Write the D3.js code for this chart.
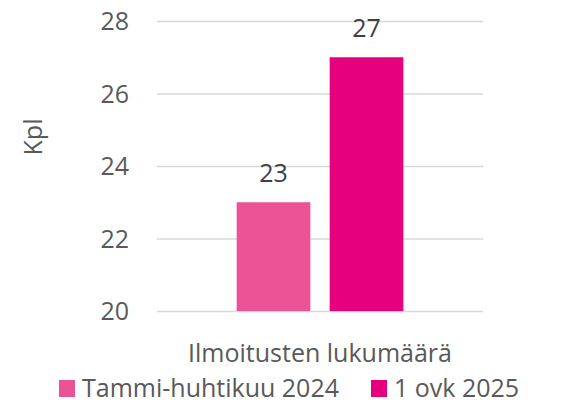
<!DOCTYPE html>
<html>
<head>
<meta charset="utf-8">
<script src="https://cdn.jsdelivr.net/npm/d3@7"></script>
<style>
  body { margin: 0; background: #fff; }
  text { font-family: "Open Sans", sans-serif; }
</style>
</head>
<body>
<script>
// data
var categories = ["Ilmoitusten lukumäärä"];
var seriesNames = ["Tammi-huhtikuu 2024", "1 ovk 2025"];
var seriesValues = [23, 27];
var yTicks = [20, 22, 24, 26, 28];
var colors = ["#EB5396", "#E6007E"];

var svgWidth = 575, svgHeight = 404;
var margin = { top: 21, right: 92, bottom: 93, left: 157 };
var width = svgWidth - margin.left - margin.right;
var height = svgHeight - margin.top - margin.bottom;

var svg = d3.select("body").append("svg")
  .attr("width", svgWidth)
  .attr("height", svgHeight);

var chartGroup = svg.append("g")
  .attr("transform", `translate(${margin.left}, ${margin.top})`);

var x0 = d3.scaleBand().domain(categories).range([0, width]).paddingInner(0).paddingOuter(0.478);
var x1 = d3.scaleBand().domain(seriesNames).range([0, x0.bandwidth()]).paddingInner(0.208);
var y = d3.scaleLinear().domain([20, 28]).range([height, 0]);

// gridlines
var leftAxis = d3.axisLeft(y).tickValues(yTicks).tickSize(-width).tickPadding(28);
var yAxisG = chartGroup.append("g").call(leftAxis);
yAxisG.select(".domain").remove();
yAxisG.selectAll(".tick line").attr("stroke", "#D9D9D9").attr("stroke-width", 1.5);
yAxisG.selectAll(".tick text")
  .attr("fill", "#595959")
  .style("font-size", "25px")
  .attr("dy", "0.35em");

// bars
var barData = seriesNames.map((s, i) => ({ name: s, value: seriesValues[i], color: colors[i] }));
var catG = chartGroup.append("g").attr("transform", `translate(${x0(categories[0])},0)`);
catG.selectAll("rect").data(barData).enter().append("rect")
  .attr("x", d => x1(d.name))
  .attr("y", d => y(d.value))
  .attr("width", x1.bandwidth())
  .attr("height", d => height - y(d.value))
  .attr("fill", d => d.color);

catG.selectAll(".lbl").data(barData).enter().append("text")
  .attr("x", d => x1(d.name) + x1.bandwidth() / 2)
  .attr("y", d => y(d.value) - 20)
  .attr("text-anchor", "middle")
  .attr("fill", "#404040")
  .style("font-size", "25px")
  .text(d => d.value);

// x category label
chartGroup.append("text")
  .attr("x", x0(categories[0]) + x0.bandwidth() / 2)
  .attr("y", height + 51)
  .attr("text-anchor", "middle")
  .attr("fill", "#595959")
  .style("font-size", "25px")
  .text(categories[0]);

// y title
svg.append("text")
  .attr("transform", "translate(42, 137) rotate(-90)")
  .attr("text-anchor", "middle")
  .attr("fill", "#595959")
  .style("font-size", "25px")
  .text("Kpl");

// legend
var legendX = [59, 371];
var legend = svg.selectAll(".legend").data(barData).enter().append("g")
  .attr("transform", (d, i) => `translate(${legendX[i]}, 380)`);
legend.append("rect").attr("width", 16).attr("height", 17).attr("fill", d => d.color);
legend.append("text")
  .attr("x", 23)
  .attr("y", 17)
  .attr("fill", "#595959")
  .style("font-size", "25px")
  .text(d => d.name);
</script>
</body>
</html>
